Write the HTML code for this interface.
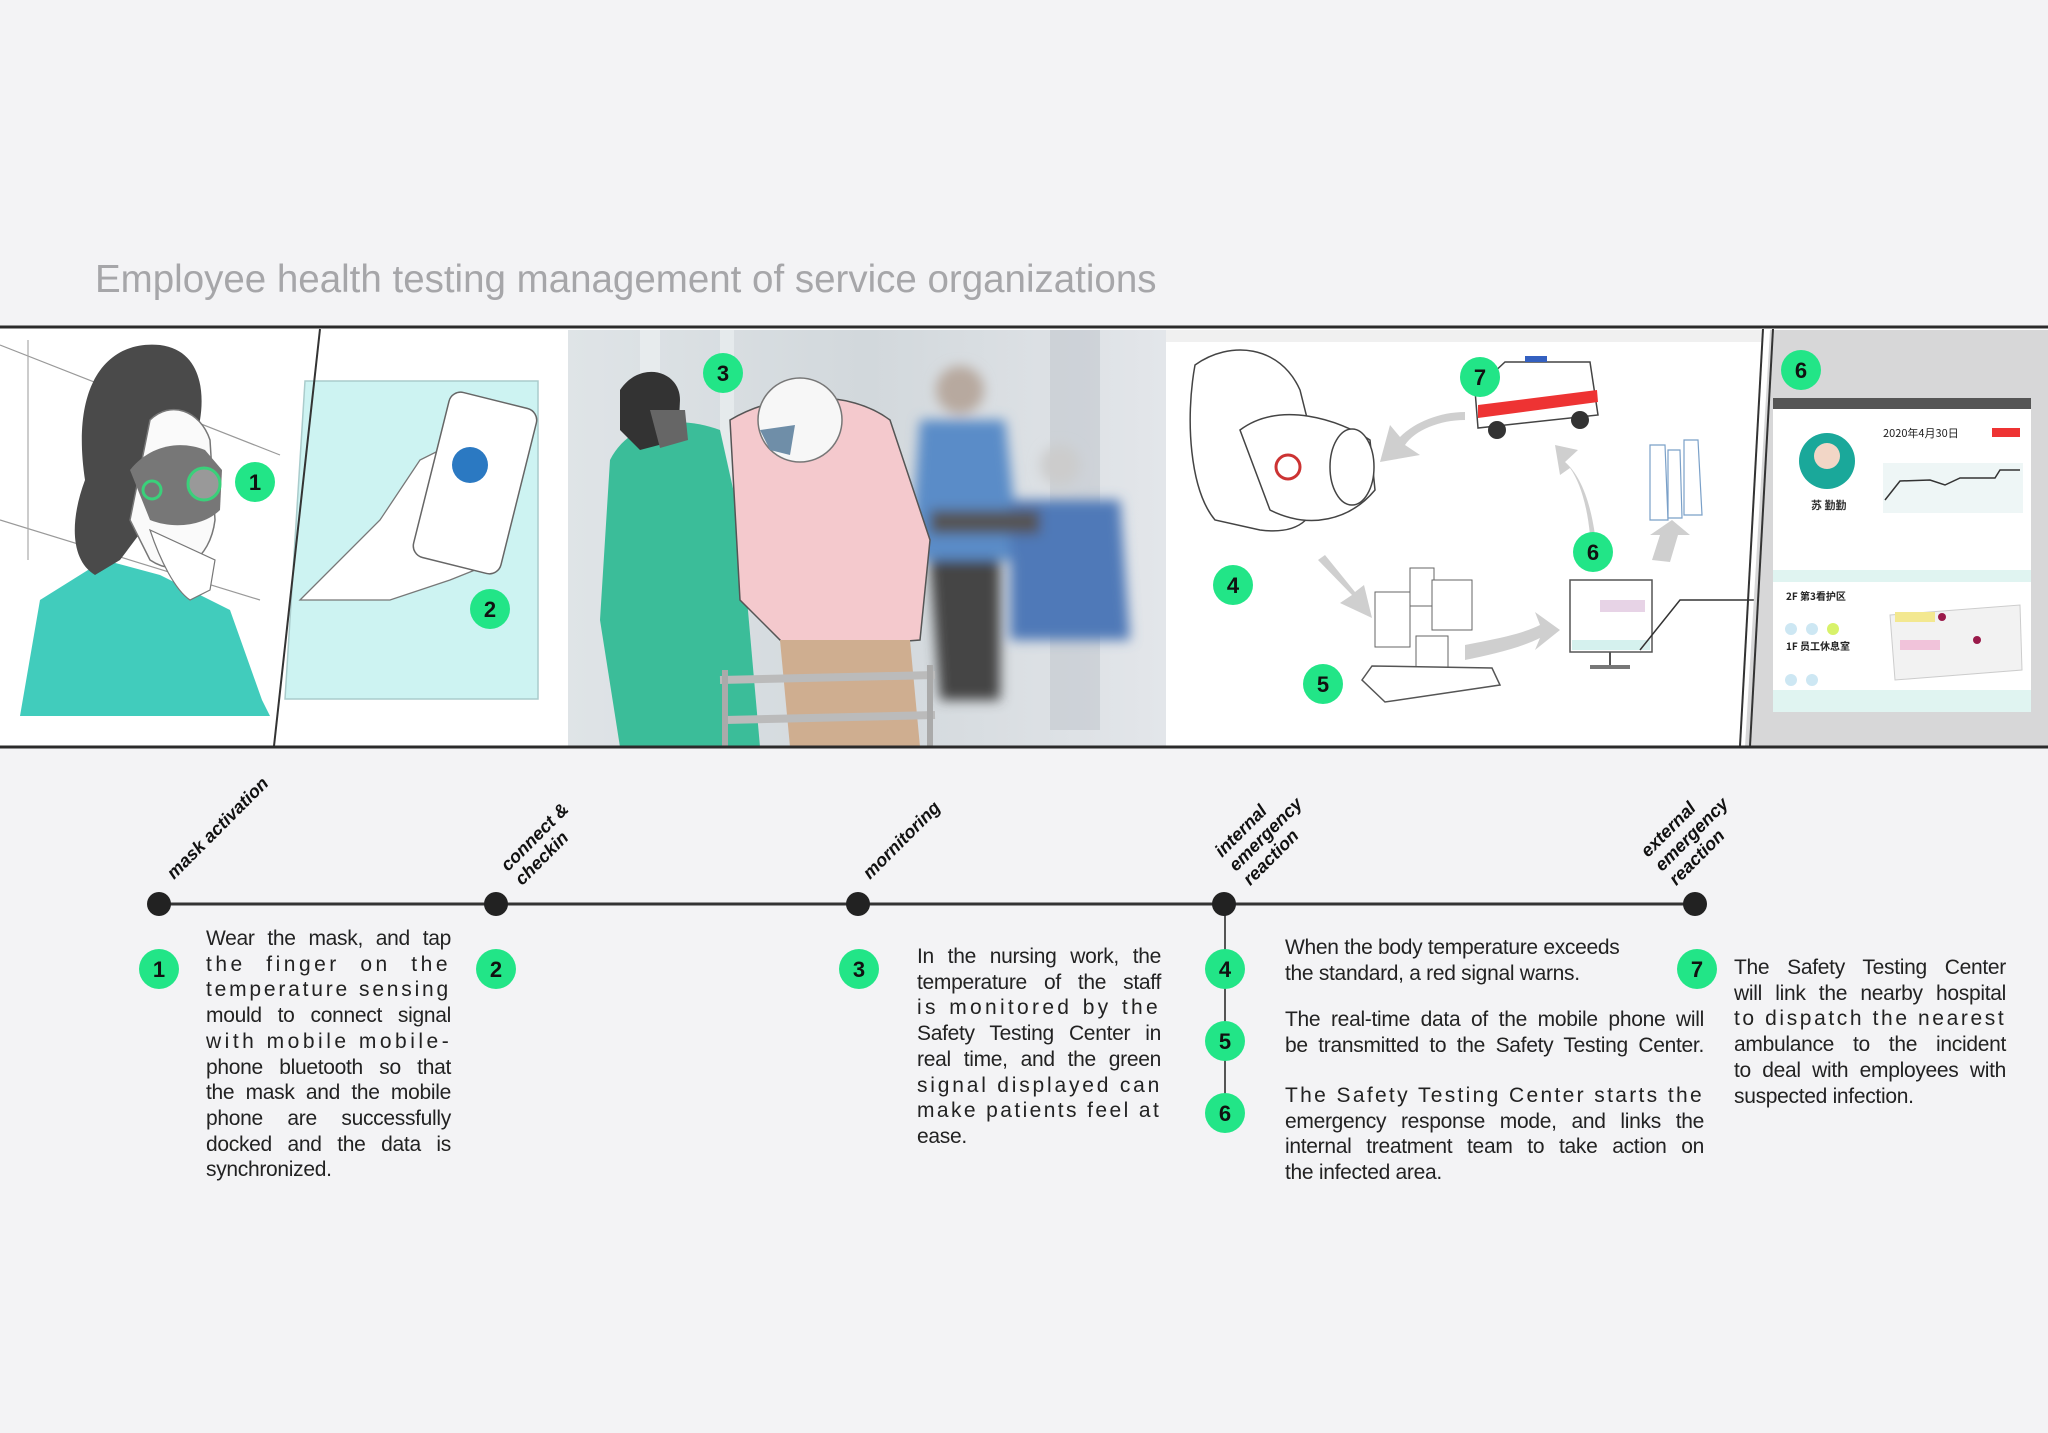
<!DOCTYPE html>
<html><head><meta charset="utf-8"><style>
html,body{margin:0;padding:0;background:#f3f3f5;}
#wrap{position:relative;width:2048px;height:1433px;overflow:hidden;background:#f3f3f5;font-family:"Liberation Sans","Noto Sans CJK SC",sans-serif;}
svg{position:absolute;left:0;top:0;}
.p{position:absolute;font-size:21px;line-height:25.7px;color:#222;letter-spacing:-0.3px;}
.p div{white-space:nowrap;text-align:justify;text-align-last:justify;}
.p div.l{text-align-last:left;}
.p div.c{letter-spacing:3.5px;}
</style></head><body><div id="wrap">
<svg width="2048" height="1433" viewBox="0 0 2048 1433" xmlns="http://www.w3.org/2000/svg" font-family="Liberation Sans, sans-serif">
<text x="95" y="292" font-size="38.5" fill="#a6a6a9">Employee health testing management of service organizations</text>

<rect x="0" y="328" width="2048" height="418" fill="#ffffff"/>
<polygon points="318,330 540,330 540,748 274,748" fill="#ffffff"/>
<polygon points="305,381 538,381 538,699 285,699" fill="#cdf3f2" stroke="#aacccc" stroke-width="1.5"/>
<line x1="320" y1="329" x2="274" y2="746" stroke="#333" stroke-width="2"/>
<line x1="0" y1="345" x2="280" y2="455" stroke="#999" stroke-width="1.2"/>
<line x1="0" y1="520" x2="260" y2="600" stroke="#999" stroke-width="1.2"/>
<line x1="28" y1="340" x2="28" y2="560" stroke="#aaa" stroke-width="1.2"/>
<path d="M20,716 L40,600 L104,560 L160,575 L230,610 L262,700 L270,716 Z" fill="#2cc7b5" opacity="0.9"/>
<path d="M85,480 C70,380 110,340 160,345 C200,350 205,390 200,420 L190,470 L150,520 L120,560 L95,575 C70,560 70,520 85,480 Z" fill="#4a4a4a"/>
<path d="M150,420 C170,400 200,410 210,440 L215,520 C210,560 180,580 150,560 L130,520 Z" fill="#fafafa" stroke="#777" stroke-width="1.5"/>
<path d="M130,470 C150,445 180,440 205,450 L222,470 L220,510 C205,525 175,530 150,520 Z" fill="#777"/>
<circle cx="204" cy="484" r="16" fill="#999" stroke="#3ad07a" stroke-width="3"/>
<circle cx="152" cy="490" r="9" fill="none" stroke="#3ad07a" stroke-width="3"/>
<path d="M150,530 C160,560 175,590 190,600 L210,590 L215,560 Z" fill="#fff" stroke="#777" stroke-width="1.2"/>
<path d="M300,600 L380,520 L420,460 L480,430 L520,470 L500,560 L450,580 L390,600 Z" fill="#fff" stroke="#777" stroke-width="1.3"/>
<rect x="430" y="398" width="90" height="170" rx="12" fill="#fff" stroke="#666" stroke-width="1.5" transform="rotate(14 475 483)"/>
<circle cx="470" cy="465" r="18" fill="#2b79c2"/>
<defs>
<linearGradient id="ph" x1="0" y1="0" x2="1" y2="0"><stop offset="0" stop-color="#dfe4e7"/><stop offset="0.5" stop-color="#d2d8dc"/><stop offset="1" stop-color="#e3e6ea"/></linearGradient>
<filter id="bl"><feGaussianBlur stdDeviation="6"/></filter>
</defs>
<rect x="568" y="330" width="598" height="417" fill="url(#ph)"/>
<rect x="640" y="330" width="20" height="380" fill="#eef1f3" opacity="0.6"/>
<rect x="720" y="330" width="14" height="380" fill="#eef1f3" opacity="0.6"/>
<rect x="1050" y="330" width="50" height="400" fill="#c6ccd2" opacity="0.7"/>
<g filter="url(#bl)">
<circle cx="960" cy="390" r="24" fill="#b7a99f"/>
<path d="M920,420 L1005,420 L1020,560 L910,560 Z" fill="#5a8cc8"/>
<path d="M930,560 L1000,560 L1000,700 L940,700 Z" fill="#444"/>
<circle cx="1060" cy="465" r="20" fill="#ccc"/>
<path d="M1010,500 L1120,500 L1130,640 L1010,640 Z" fill="#4f79b8"/>
<rect x="930" y="510" width="110" height="24" fill="#555"/>
</g>
<path d="M610,460 C630,420 680,415 720,430 L740,520 L760,747 L620,747 L600,620 Z" fill="#3bbd99"/>
<path d="M620,390 C640,360 680,370 680,400 L678,440 L640,450 L620,430 Z" fill="#333"/>
<path d="M650,410 L685,410 L688,440 L660,448 Z" fill="#666"/>
<path d="M730,420 C780,390 850,390 890,420 L930,540 L920,640 L790,650 L740,600 Z" fill="#f4c9cd" stroke="#555" stroke-width="1.5"/>
<path d="M780,640 L910,640 L920,747 L790,747 Z" fill="#cfae90"/>
<circle cx="800" cy="420" r="42" fill="#f7f7f7" stroke="#777" stroke-width="1.5"/>
<path d="M760,430 L795,425 L790,455 L770,450 Z" fill="#6f8ea8"/>
<line x1="720" y1="680" x2="935" y2="675" stroke="#bbb" stroke-width="8"/>
<line x1="725" y1="720" x2="935" y2="715" stroke="#bbb" stroke-width="8"/>
<line x1="725" y1="670" x2="725" y2="747" stroke="#aaa" stroke-width="6"/>
<line x1="930" y1="665" x2="930" y2="747" stroke="#aaa" stroke-width="6"/>
<rect x="1166" y="330" width="597" height="417" fill="#fff"/>
<rect x="1166" y="330" width="597" height="12" fill="#f0f0f0"/>
<path d="M1195,365 C1230,340 1280,345 1300,390 L1320,470 C1320,520 1300,535 1260,530 L1215,520 C1190,490 1185,420 1195,365 Z" fill="#fff" stroke="#444" stroke-width="1.5"/>
<path d="M1240,430 C1280,400 1340,420 1370,440 L1375,490 C1350,520 1310,530 1270,510 Z" fill="#fff" stroke="#444" stroke-width="1.5"/>
<ellipse cx="1352" cy="467" rx="22" ry="38" fill="#fff" stroke="#444" stroke-width="1.5"/>
<circle cx="1288" cy="467" r="12" fill="none" stroke="#c33" stroke-width="3"/>
<path d="M1475,390 L1505,362 L1590,362 L1598,415 L1478,428 Z" fill="#fff" stroke="#444" stroke-width="1.5"/>
<path d="M1478,405 L1597,390 L1598,402 L1478,418 Z" fill="#e33"/>
<rect x="1525" y="356" width="22" height="6" fill="#3460c0"/>
<circle cx="1497" cy="430" r="9" fill="#333"/><circle cx="1580" cy="420" r="9" fill="#333"/>
<g fill="#cfcfcf">
<path d="M1465,420 C1440,420 1415,430 1405,445 L1420,455 L1380,462 L1390,425 L1400,437 C1415,422 1440,412 1465,412 Z"/>
<path d="M1595,535 C1590,500 1580,475 1565,462 L1578,450 L1555,445 L1560,475 L1570,468 C1580,482 1587,505 1590,535 Z"/>
<path d="M1318,560 L1352,595 L1340,603 L1372,618 L1364,585 L1355,592 L1325,555 Z"/>
<path d="M1465,645 C1490,640 1520,635 1540,625 L1535,612 L1560,630 L1535,650 L1540,638 C1520,648 1490,655 1465,660 Z"/>
<path d="M1652,560 L1660,535 L1650,535 L1672,520 L1690,535 L1678,535 L1670,562 Z"/>
</g>
<rect x="1375" y="592" width="35" height="55" fill="#fff" stroke="#666"/>
<rect x="1410" y="568" width="24" height="38" fill="#fff" stroke="#666"/>
<rect x="1432" y="580" width="40" height="50" fill="#fff" stroke="#666"/>
<rect x="1416" y="636" width="32" height="50" fill="#fff" stroke="#666"/>
<path d="M1362,680 L1372,666 L1492,668 L1500,685 L1385,702 Z" fill="#fff" stroke="#555" stroke-width="1.5"/>
<rect x="1570" y="580" width="82" height="72" fill="#fff" stroke="#555" stroke-width="1.5"/>
<rect x="1572" y="640" width="78" height="10" fill="#d5f1ee"/>
<line x1="1610" y1="652" x2="1610" y2="665" stroke="#555" stroke-width="2"/>
<rect x="1590" y="665" width="40" height="4" fill="#777"/>
<rect x="1600" y="600" width="45" height="12" fill="#e7d3e6"/>
<g fill="#fff" stroke="#7aa0c8" stroke-width="1.2">
<path d="M1650,445 L1665,445 L1668,520 L1650,520 Z"/><path d="M1668,450 L1680,450 L1682,518 L1668,518 Z"/><path d="M1684,440 L1698,440 L1702,515 L1684,515 Z"/>
</g>
<polyline points="1640,650 1680,600 1773,600" fill="none" stroke="#333" stroke-width="1.5"/>
<polygon points="1770,330 2048,330 2048,747 1745,747" fill="#d7d7d8"/>
<line x1="1763" y1="329" x2="1740" y2="746" stroke="#333" stroke-width="2"/>
<line x1="1773" y1="329" x2="1750" y2="746" stroke="#333" stroke-width="2"/>
<rect x="1773" y="398" width="258" height="314" fill="#fff"/>
<rect x="1773" y="398" width="258" height="11" fill="#555"/>
<rect x="1773" y="570" width="258" height="12" fill="#e0f4f1"/>
<rect x="1773" y="690" width="258" height="22" fill="#e0f4f1"/>
<circle cx="1827" cy="461" r="28" fill="#1aa89a"/>
<circle cx="1827" cy="456" r="13" fill="#f2d6c6"/>
<text x="1811" y="509" font-size="11" font-weight="bold" fill="#333" font-family="Noto Sans CJK SC, sans-serif">苏 勤勤</text>
<text x="1883" y="437" font-size="11" fill="#222" font-family="Noto Sans CJK SC, sans-serif">2020年4月30日</text>
<rect x="1992" y="428" width="28" height="9" fill="#e33"/>
<rect x="1883" y="463" width="140" height="50" fill="#eef6f6"/>
<polyline points="1885,500 1900,481 1930,480 1945,485 1960,478 1995,478 2000,470 2020,470" fill="none" stroke="#333" stroke-width="1.5"/>
<text x="1786" y="600" font-size="10" font-weight="bold" fill="#222" font-family="Noto Sans CJK SC, sans-serif">2F 第3看护区</text>
<text x="1786" y="650" font-size="10" font-weight="bold" fill="#222" font-family="Noto Sans CJK SC, sans-serif">1F 员工休息室</text>
<circle cx="1791" cy="629" r="6" fill="#cde7f3"/><circle cx="1812" cy="629" r="6" fill="#cde7f3"/><circle cx="1833" cy="629" r="6" fill="#d8f26a"/>
<circle cx="1791" cy="680" r="6" fill="#cde7f3"/><circle cx="1812" cy="680" r="6" fill="#cde7f3"/>
<path d="M1890,615 L2020,605 L2022,670 L1895,680 Z" fill="#f2f2f2" stroke="#ccc"/>
<rect x="1895" y="612" width="40" height="10" fill="#f3e890"/><rect x="1900" y="640" width="40" height="10" fill="#f1c3da"/>
<circle cx="1942" cy="617" r="4" fill="#9a1a4a"/><circle cx="1977" cy="640" r="4" fill="#9a1a4a"/>

<line x1="0" y1="327" x2="2048" y2="327" stroke="#2b2b2b" stroke-width="3"/>
<line x1="0" y1="747" x2="2048" y2="747" stroke="#2b2b2b" stroke-width="3"/>

<g font-weight="bold" font-size="22" text-anchor="middle" fill="#111">
<circle cx="255" cy="482" r="20" fill="#22e587"/><text x="255" y="490">1</text>
<circle cx="490" cy="609" r="20" fill="#22e587"/><text x="490" y="617">2</text>
<circle cx="723" cy="373" r="20" fill="#22e587"/><text x="723" y="381">3</text>
<circle cx="1480" cy="377" r="20" fill="#22e587"/><text x="1480" y="385">7</text>
<circle cx="1233" cy="585" r="20" fill="#22e587"/><text x="1233" y="593">4</text>
<circle cx="1593" cy="552" r="20" fill="#22e587"/><text x="1593" y="560">6</text>
<circle cx="1323" cy="684" r="20" fill="#22e587"/><text x="1323" y="692">5</text>
<circle cx="1801" cy="370" r="20" fill="#22e587"/><text x="1801" y="378">6</text>
</g>

<line x1="159" y1="904" x2="1695" y2="904" stroke="#333" stroke-width="3"/>
<line x1="1225" y1="904" x2="1225" y2="1113" stroke="#555" stroke-width="2"/>
<g fill="#222">
<circle cx="159" cy="904" r="12"/><circle cx="496" cy="904" r="12"/><circle cx="858" cy="904" r="12"/><circle cx="1224" cy="904" r="12"/><circle cx="1695" cy="904" r="12"/>
</g>
<g font-weight="bold" font-style="italic" font-size="18" fill="#111">
<text transform="translate(174,880) rotate(-45)">mask activation</text>
<text transform="translate(508,872) rotate(-45)"><tspan x="0" y="0">connect &amp;</tspan><tspan x="0" y="20">checkin</tspan></text>
<text transform="translate(870,880) rotate(-45)">mornitoring</text>
<text transform="translate(1222,858) rotate(-45)"><tspan x="0" y="0">internal</tspan><tspan x="0" y="20">emergency</tspan><tspan x="0" y="40">reaction</tspan></text>
<text transform="translate(1648,858) rotate(-45)"><tspan x="0" y="0">external</tspan><tspan x="0" y="20">emergency</tspan><tspan x="0" y="40">reaction</tspan></text>
</g>
<g font-weight="bold" font-size="22" text-anchor="middle" fill="#111">
<circle cx="159" cy="969" r="20" fill="#22e587"/><text x="159" y="977">1</text>
<circle cx="496" cy="969" r="20" fill="#22e587"/><text x="496" y="977">2</text>
<circle cx="859" cy="969" r="20" fill="#22e587"/><text x="859" y="977">3</text>
<circle cx="1225" cy="969" r="20" fill="#22e587"/><text x="1225" y="977">4</text>
<circle cx="1225" cy="1041" r="20" fill="#22e587"/><text x="1225" y="1049">5</text>
<circle cx="1225" cy="1113" r="20" fill="#22e587"/><text x="1225" y="1121">6</text>
<circle cx="1697" cy="969" r="20" fill="#22e587"/><text x="1697" y="977">7</text>
</g>
</svg>

<div class="p" style="left:206px;top:926px;width:245px;">
<div>Wear the mask, and tap</div><div class="c">the finger on the</div><div class="c" style="letter-spacing:2.8px">temperature sensing</div><div>mould to connect signal</div><div class="c">with mobile mobile-</div><div>phone bluetooth so that</div><div>the mask and the mobile</div><div>phone are successfully</div><div>docked and the data is</div><div class="l">synchronized.</div>
</div>
<div class="p" style="left:917px;top:944px;width:244px;">
<div>In the nursing work, the</div><div>temperature of the staff</div><div class="c" style="letter-spacing:3.3px">is monitored by the</div><div>Safety Testing Center in</div><div>real time, and the green</div><div class="c" style="letter-spacing:2.8px">signal displayed can</div><div class="c" style="letter-spacing:2.4px">make patients feel at</div><div class="l">ease.</div>
</div>
<div class="p" style="left:1285px;top:935px;width:419px;">
<div class="l">When the body temperature exceeds</div><div class="l">the standard, a red signal warns.</div>
</div>
<div class="p" style="left:1285px;top:1007px;width:419px;">
<div>The real-time data of the mobile phone will</div><div>be transmitted to the Safety Testing Center.</div>
</div>
<div class="p" style="left:1285px;top:1083px;width:419px;">
<div class="c" style="letter-spacing:2.3px">The Safety Testing Center starts the</div><div>emergency response mode, and links the</div><div>internal treatment team to take action on</div><div class="l">the infected area.</div>
</div>
<div class="p" style="left:1734px;top:955px;width:272px;">
<div>The Safety Testing Center</div><div>will link the nearby hospital</div><div class="c" style="letter-spacing:2.6px">to dispatch the nearest</div><div>ambulance to the incident</div><div>to deal with employees with</div><div class="l">suspected infection.</div>
</div>
</div></body></html>
